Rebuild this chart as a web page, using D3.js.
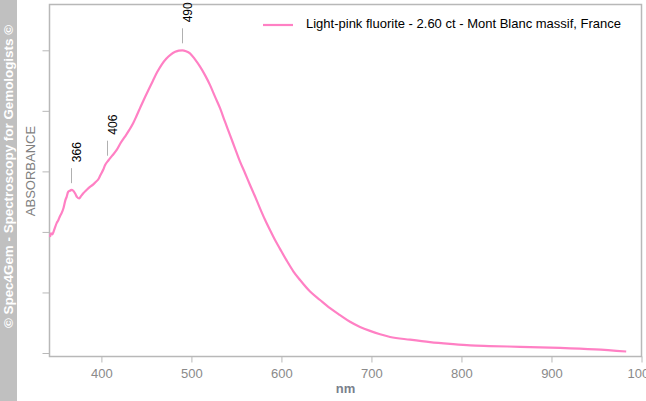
<!DOCTYPE html>
<html><head><meta charset="utf-8">
<script src="https://cdn.jsdelivr.net/npm/d3@7"></script>
<style>html,body{margin:0;padding:0;background:#fff;}svg{display:block;font-family:"Liberation Sans",Arial,sans-serif;}</style>
</head><body>
<svg id="c" width="646" height="401"></svg>
<script>
const wavelengths = [342.9,344,345.5,347,348.5,350.3,352,354,355.9,358,360,361.4,363,365.1,366.5,368.8,371,373,375.4,377.5,379.9,383,387.3,391,394,396.6,399,402.1,404,407.7,412,417,421,426.2,431,435.4,439,442.9,447,452.1,457,462,467,472,477,482,486,490,494,498.4,504,509.6,515.1,520.7,526.2,531.8,537.3,542.9,548.4,554,559.6,565.1,570.7,576.2,581.8,587.3,592.9,598.4,605.9,613.2,620.7,631.8,642.9,654,665.1,676.2,687.3,698.4,709.6,720.7,742.9,765.1,787.3,809.6,830.7,865.1,909.6,948.4,983];
const absorbance = [0.383,0.395,0.392,0.402,0.415,0.429,0.438,0.452,0.463,0.48,0.505,0.516,0.532,0.536,0.539,0.536,0.526,0.515,0.511,0.519,0.528,0.537,0.549,0.557,0.566,0.574,0.588,0.606,0.620,0.636,0.652,0.671,0.692,0.715,0.737,0.760,0.783,0.809,0.836,0.868,0.898,0.928,0.953,0.972,0.986,0.995,0.999,1.0,0.997,0.990,0.970,0.946,0.918,0.885,0.847,0.809,0.764,0.720,0.676,0.632,0.594,0.555,0.517,0.478,0.440,0.406,0.373,0.344,0.305,0.270,0.241,0.203,0.175,0.148,0.125,0.103,0.086,0.073,0.062,0.053,0.044,0.036,0.030,0.025,0.023,0.0205,0.0170,0.012,0.005];
const xTicks = [400,500,600,700,800,900,1000];
const yTicks = [0,0.2,0.4,0.6,0.8,1.0];
const peaks = [366,406,490];
const seriesName = "Light-pink fluorite - 2.60 ct - Mont Blanc massif, France";
const copyright = "© Spec4Gem - Spectroscopy for Gemologists ©";

const svg = d3.select("#c");
const L = 49.5, R = 641.5, T = 4.5, B = 356.5;
const x = d3.scaleLinear().domain([400,1000]).range([101.4,641.5]);
const y = d3.scaleLinear().domain([0,1]).range([353,50.3]);
const axisColor = "#b8b8b8";
const pink = "#ff80c4";

// copyright band
svg.append("rect").attr("x",0).attr("y",0).attr("width",17).attr("height",401).attr("fill","#c0c0c0");
svg.append("text").attr("transform","translate(12.5,176.5) rotate(-90)")
  .attr("text-anchor","middle").attr("fill","#fff").attr("font-weight","bold").attr("font-size",12.5)
  .attr("textLength",303).attr("lengthAdjust","spacingAndGlyphs")
  .text(copyright);

// frame
svg.append("rect").attr("x",L).attr("y",T).attr("width",R-L).attr("height",B-T)
  .attr("fill","none").attr("stroke",axisColor).attr("stroke-width",1.5);

// x axis
const xAxis = d3.axisBottom(x).tickValues(xTicks).tickSize(6).tickPadding(6).tickFormat(d3.format("d"));
const gx = svg.append("g").attr("transform",`translate(0,${B})`).call(xAxis);
gx.select(".domain").remove();
gx.selectAll(".tick line").attr("stroke",axisColor);
gx.selectAll(".tick text").attr("fill","#8a8a8a").attr("font-size",13).attr("font-family","Liberation Sans, Arial, sans-serif");

// y axis
const yAxis = d3.axisLeft(y).tickValues(yTicks).tickSize(7).tickFormat("");
const gy = svg.append("g").attr("transform",`translate(${L},0)`).call(yAxis);
gy.select(".domain").remove();
gy.selectAll(".tick line").attr("stroke",axisColor);

// axis titles
svg.append("text").attr("x",(L+R)/2).attr("y",393).attr("text-anchor","middle")
  .attr("fill","#7a7f8c").attr("font-weight","bold").attr("font-size",13).text("nm");
svg.append("text").attr("transform","translate(35,171) rotate(-90)").attr("text-anchor","middle")
  .attr("fill","#808080").attr("font-size",13).text("ABSORBANCE");

// data line
const data = wavelengths.map((w,i)=>({w, a: absorbance[i]}));
const line = d3.line().x(d=>x(d.w)).y(d=>y(d.a)).curve(d3.curveMonotoneX);
svg.append("path").datum(data).attr("d",line).attr("fill","none")
  .attr("stroke",pink).attr("stroke-width",2.2).attr("stroke-linejoin","round");

// peak annotations
const interp = d3.scaleLinear().domain(wavelengths).range(absorbance);
peaks.forEach(p=>{
  const px = Math.round(x(p))+0.5;
  const py = y(interp(p));
  svg.append("line").attr("x1",px).attr("x2",px).attr("y1",py-22).attr("y2",py-7)
    .attr("stroke","#b0b0b0").attr("stroke-width",1);
  svg.append("text").attr("transform",`translate(${px+9},${py-28}) rotate(-90)`)
    .attr("text-anchor","start").attr("fill","#000").attr("font-size",12).text(p);
});

// legend
svg.append("line").attr("x1",263).attr("x2",293).attr("y1",25).attr("y2",25)
  .attr("stroke",pink).attr("stroke-width",2.2);
svg.append("text").attr("x",306).attr("y",28).attr("fill","#000").attr("font-size",13).text(seriesName);
</script>
</body></html>
